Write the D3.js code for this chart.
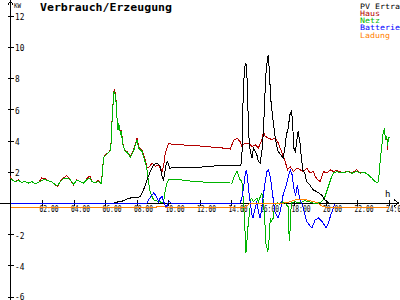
<!DOCTYPE html>
<html>
<head>
<meta charset="utf-8">
<script src="https://cdn.jsdelivr.net/npm/d3@7"></script>
<style>
body { margin: 0; background: #fff; }
svg { display: block; }
text { font-family: "DejaVu Sans Mono", monospace; }
</style>
</head>
<body>
<svg id="chart" width="400" height="300"></svg>
<script>
// Data: [hour, kW]
const hausData = [
  [0,1.7],[0.08,1.5],[0.3,1.38],[0.51,1.49],[0.72,1.32],[0.93,1.38],[1.14,1.28],[1.35,1.38],[1.57,1.24],[1.78,1.32],
  [1.98,1.6],[2.2,1.55],[2.41,1.42],[2.62,1.38],[2.83,1.17],[3.0,1.06],[3.15,1.38],[3.36,1.6],[3.57,1.75],[3.79,1.49],
  [4.0,1.17],[4.2,1.49],[4.42,1.38],[4.63,1.28],[4.84,1.55],[5.05,1.75],[5.16,1.38],[5.37,1.28],[5.58,1.45],[5.75,1.24],
  [5.81,1.7],[5.85,2.24],[5.92,2.9],[6.02,3.09],[6.23,3.22],[6.34,3.41],[6.4,4.06],[6.45,5.34],[6.49,5.98],[6.55,7.07],
  [6.61,7.3],[6.7,6.58],[6.77,5.34],[6.83,4.7],[6.87,5.14],[6.98,4.5],[7.04,4.7],[7.12,3.84],[7.25,3.41],[7.4,3.29],
  [7.61,2.97],[7.82,3.41],[7.97,3.93],[8.03,4.16],[8.14,3.6],[8.35,3.41],[8.56,2.77],[8.67,2.3],[8.77,2.26],[8.99,2.56],
  [9.19,2.34],[9.4,2.45],[9.62,2.02],[9.72,2.34],[9.83,3.22],[10.04,3.84],[10.34,3.73],[10.78,3.73],[12.05,3.65],[13.74,3.5],
  [13.95,3.46],[14.16,4.0],[14.38,4.16],[14.58,3.93],[14.69,3.63],[14.9,3.84],[15.09,3.84],[15.33,3.63],[15.54,3.73],[15.74,3.52],
  [15.96,4.06],[16.06,4.59],[16.17,4.27],[16.38,4.16],[16.59,4.06],[16.8,4.16],[17.01,3.84],[17.23,3.22],[17.44,2.66],[17.59,2.13],
  [17.76,2.34],[17.96,2.02],[18.18,2.24],[18.39,2.13],[18.6,2.02],[18.81,2.24],[19.02,1.92],[19.23,2.02],[19.34,1.7],[19.55,1.45],
  [19.66,1.38],[19.87,2.02],[20.08,1.92],[20.29,2.13],[20.5,2.02],[20.72,2.08],[21.03,1.96],[21.45,2.02],[21.67,1.92],[21.98,2.13],
  [22.19,1.92],[22.51,1.96],[22.72,1.81],[22.94,1.6],[23.14,1.38],[23.32,1.28],[23.4,1.81],[23.48,2.77],[23.57,3.63],[23.67,4.59],
  [23.73,4.7],[23.82,4.06],[23.89,4.27],[23.95,3.4]
];

const netzData = [
  [0,1.6],[0.08,1.5],[0.3,1.38],[0.51,1.45],[0.72,1.32],[0.93,1.38],[1.14,1.28],[1.35,1.38],[1.57,1.24],[1.78,1.32],
  [1.98,1.45],[2.2,1.5],[2.41,1.42],[2.62,1.38],[2.83,1.17],[3.0,1.1],[3.15,1.38],[3.36,1.55],[3.57,1.6],[3.79,1.49],
  [4.0,1.2],[4.2,1.45],[4.42,1.38],[4.63,1.28],[4.84,1.5],[5.05,1.6],[5.16,1.38],[5.37,1.28],[5.58,1.4],[5.75,1.24],
  [5.81,1.65],[5.85,2.2],[5.92,2.9],[6.02,3.05],[6.23,3.22],[6.34,3.35],[6.4,4.0],[6.45,5.3],[6.49,5.98],[6.55,7.0],
  [6.61,7.2],[6.7,6.5],[6.77,5.3],[6.83,4.65],[6.87,5.1],[6.98,4.45],[7.04,4.6],[7.12,3.8],[7.25,3.35],[7.4,3.25],
  [7.61,2.95],[7.82,3.35],[7.97,3.85],[8.03,4.05],[8.14,3.5],[8.35,3.3],[8.56,2.6],[8.67,2.13],[8.77,1.28],[8.88,0.64],
  [9.09,0.21],[9.4,0.1],[9.62,0.04],[9.72,0.1],[9.83,0.85],[9.94,1.28],[10.04,1.49],[10.78,1.49],[11.62,1.38],[12.68,1.32],
  [14.06,1.28],[14.16,1.6],[14.38,2.02],[14.46,1.81],[14.58,1.49],[14.69,1.38],[14.79,0.1],[14.86,-1.18],[14.9,-2.03],[14.95,-3.2],
  [15.01,-2.46],[15.07,-1.6],[15.16,-0.75],[15.28,0.32],[15.43,0.1],[15.64,0.32],[15.74,0.1],[15.96,0.64],[16.06,0.1],[16.17,-1.6],
  [16.21,-2.56],[16.34,-3.1],[16.43,-2.24],[16.49,-1.0],[16.57,-1.18],[16.68,-0.96],[16.74,-0.45],[16.8,-0.11],[16.95,0],[17.1,-0.11],
  [17.2,0.1],[17.42,0],[17.52,-0.11],[17.63,-0.22],[17.67,-1.18],[17.69,-2.46],[17.76,-1.6],[17.8,-0.54],[17.84,0],[18.05,0.1],
  [18.26,0],[18.47,0.05],[18.69,0.15],[18.9,0.1],[19.21,0],[19.53,0],[19.66,0.05],[19.77,0.1],[19.97,0.42],[20.18,1.06],
  [20.36,1.6],[20.5,1.92],[20.72,2.0],[21.03,1.96],[21.45,2.0],[21.67,1.9],[21.98,2.05],[22.19,1.92],[22.51,1.94],[22.72,1.8],
  [22.94,1.6],[23.14,1.38],[23.32,1.28],[23.4,1.81],[23.48,2.77],[23.57,3.63],[23.67,4.59],[23.73,4.7],[23.82,4.06],[23.89,4.27],
  [23.95,3.63],[23.99,4.16],[24.1,4.2]
];

const pvData = [
  [6.55,0],[6.61,0.04],[7.04,0.1],[7.4,0.26],[7.82,0.38],[8.03,0.32],[8.24,0.42],[8.45,0.85],[8.67,1.49],[8.88,2.02],
  [9.09,2.45],[9.3,2.56],[9.51,2.34],[9.62,1.7],[9.72,1.49],[9.89,2.56],[9.97,2.66],[10.1,2.24],[10.46,2.26],[11.62,2.26],
  [13.11,2.39],[14.58,2.39],[14.69,2.6],[14.73,5.23],[14.79,7.37],[14.86,8.65],[14.95,8.97],[15.01,8.22],[15.07,6.35],[15.11,4.59],
  [15.22,3.31],[15.33,2.88],[15.43,3.52],[15.54,3.31],[15.64,3.09],[15.74,2.66],[15.85,2.56],[15.96,3.31],[16.06,4.59],[16.13,6.35],
  [16.21,8.22],[16.32,9.29],[16.38,9.5],[16.44,8.22],[16.55,6.35],[16.68,5.23],[16.78,4.38],[16.89,3.73],[16.99,3.31],[17.17,3.09],
  [17.31,2.88],[17.42,3.52],[17.52,4.38],[17.63,4.8],[17.74,5.66],[17.84,5.87],[17.9,5.34],[17.99,3.52],[18.09,3.31],[18.2,4.16],
  [18.26,4.59],[18.37,3.95],[18.47,2.88],[18.58,2.02],[18.69,1.92],[18.79,1.38],[19.0,1.17],[19.21,0.85],[19.42,0.74],[19.74,0.53],
  [19.97,0.21],[20.08,0.1],[20.2,0],[24,0]
];

const batterieData = [
  [0,0],[8.67,0],[8.77,0.21],[8.99,0.53],[9.09,0.64],[9.19,0.53],[9.3,0.32],[9.4,0.1],[9.51,0.32],[9.62,0.42],
  [9.72,0.1],[9.83,-0.15],[9.87,-0.32],[10.0,0],[10.1,0.1],[10.19,0],[14.58,0],[14.69,0.32],[14.79,0.96],[14.9,1.81],
  [14.97,2.13],[15.03,1.81],[15.11,0.96],[15.22,0],[15.33,-0.75],[15.39,-0.96],[15.49,-0.54],[15.64,0.1],[15.74,-0.54],[15.85,-0.96],
  [15.96,-0.32],[16.06,0.53],[16.17,1.38],[16.28,2.02],[16.38,2.13],[16.49,1.7],[16.59,0.96],[16.7,0.1],[16.78,-0.54],[16.89,-0.75],
  [16.99,-0.96],[17.1,-0.64],[17.2,-0.11],[17.31,0.53],[17.52,1.17],[17.67,1.81],[17.77,2.13],[17.88,1.81],[17.99,0.96],[18.09,0.53],
  [18.15,0.74],[18.22,1.17],[18.31,0.53],[18.43,0.1],[18.54,-0.11],[18.64,-0.54],[18.81,-1.18],[19.13,-1.6],[19.34,-1.09],[19.55,-0.96],
  [19.77,-1.18],[19.91,-1.39],[20.04,-1.6],[20.18,-1.28],[20.34,-0.75],[20.5,-0.32],[20.61,0],[24,0]
];

const ladungData = [
  [0,-0.3],[9.25,-0.3],[9.3,-0.22],[9.78,-0.22],[9.83,-0.3],[14.9,-0.3],[15.0,-0.18],[15.22,0],[16.28,-0.05],[17.12,-0.05],
  [17.76,0.08],[18.18,0.24],[18.6,0.24],[19.02,0.15],[19.45,0.04],[19.77,-0.18],[19.97,-0.26],[20.1,-0.3],[24,-0.3]
];

const yTicks = [-6, -4, -2, 2, 4, 6, 8, 10, 12];
const xTicks = [2, 4, 6, 8, 10, 12, 14, 16, 18, 20, 22, 24];
const legendLabels = ["PV Ertra", "Haus", "Netz", "Batterie", "Ladung"];
const legendColors = ["#000000", "#b40000", "#00b400", "#0000ff", "#ff8000"];

// Scales
const x = d3.scaleLinear().domain([0, 24]).range([10.5, 388.5]);
const y = d3.scaleLinear().domain([-6, 12]).range([296.7, 15.7]);

const svg = d3.select("#chart");

// Axes
const xAxisG = svg.append("g")
    .attr("transform", `translate(0,${y(0)})`)
    .call(d3.axisBottom(x).tickValues(xTicks).tickSize(3)
        .tickFormat(d => d3.format("02")(d) + ":00"));
xAxisG.select(".domain").remove();
xAxisG.selectAll(".tick line").attr("y1", -3).attr("y2", 3).attr("stroke", "#000")
    .attr("shape-rendering", "crispEdges");
xAxisG.selectAll(".tick text")
    .attr("dy", null).attr("y", 9.4).attr("x", -3)
    .attr("text-anchor", "start")
    .attr("font-family", "DejaVu Sans Mono").attr("font-size", 9)
    .attr("textLength", 19).attr("lengthAdjust", "spacingAndGlyphs")
    .attr("fill", "#000");

const yAxisG = svg.append("g")
    .attr("transform", `translate(${x(0)},0)`)
    .call(d3.axisRight(y).tickValues(yTicks).tickSize(3).tickFormat(d => d));
yAxisG.select(".domain").remove();
yAxisG.selectAll(".tick line").attr("x1", -3).attr("x2", 3).attr("stroke", "#000")
    .attr("shape-rendering", "crispEdges");
yAxisG.selectAll(".tick text")
    .attr("dy", null).attr("y", d => d === -6 ? 3 : 3.8).attr("x", 4.5)
    .attr("font-family", "DejaVu Sans Mono").attr("font-size", 9)
    .attr("textLength", d => String(d).length * 4.7).attr("lengthAdjust", "spacingAndGlyphs")
    .attr("fill", "#000");

// axis lines with arrows
svg.append("path")
    .attr("d", `M${x(0)},300V1M8,4.5L${x(0)},1L13,4.5`)
    .attr("fill", "none").attr("stroke", "#000").attr("shape-rendering", "crispEdges");
svg.append("path")
    .attr("d", `M0,${y(0)}H398.5M394,${y(0) - 3.3}L398.5,${y(0)}L394,${y(0) + 3.3}`)
    .attr("fill", "none").attr("stroke", "#000").attr("shape-rendering", "crispEdges");

// Lines
const line = d3.line().x(d => x(d[0])).y(d => y(d[1]));
const series = [
    { data: hausData, color: legendColors[1] },
    { data: netzData, color: legendColors[2] },
    { data: batterieData, color: legendColors[3] },
    { data: pvData, color: legendColors[0] },
    { data: ladungData, color: legendColors[4] }
];
svg.selectAll(".series")
    .data(series)
    .enter()
    .append("path")
    .attr("class", "series")
    .attr("d", d => line(d.data))
    .attr("fill", "none")
    .attr("stroke", d => d.color)
    .attr("stroke-width", 1)
    .attr("shape-rendering", "crispEdges");

// Title and labels
svg.append("text")
    .attr("x", 40).attr("y", 10.5)
    .attr("font-size", 11).attr("font-weight", "bold")
    .attr("textLength", 132).attr("lengthAdjust", "spacingAndGlyphs")
    .text("Verbrauch/Erzeugung");

svg.append("text")
    .attr("x", 14).attr("y", 8)
    .attr("font-size", 7)
    .attr("textLength", 7).attr("lengthAdjust", "spacingAndGlyphs")
    .text("KW");

svg.append("text")
    .attr("x", 385).attr("y", 196.5)
    .attr("font-size", 9)
    .text("h");

// Legend
svg.selectAll(".legend")
    .data(legendLabels)
    .enter()
    .append("text")
    .attr("class", "legend")
    .attr("x", 360)
    .attr("y", (d, i) => 8.5 + i * 7.3)
    .attr("font-size", 7.5)
    .attr("textLength", d => d.length * 5).attr("lengthAdjust", "spacingAndGlyphs")
    .attr("fill", (d, i) => legendColors[i])
    .text(d => d);
</script>
</body>
</html>
